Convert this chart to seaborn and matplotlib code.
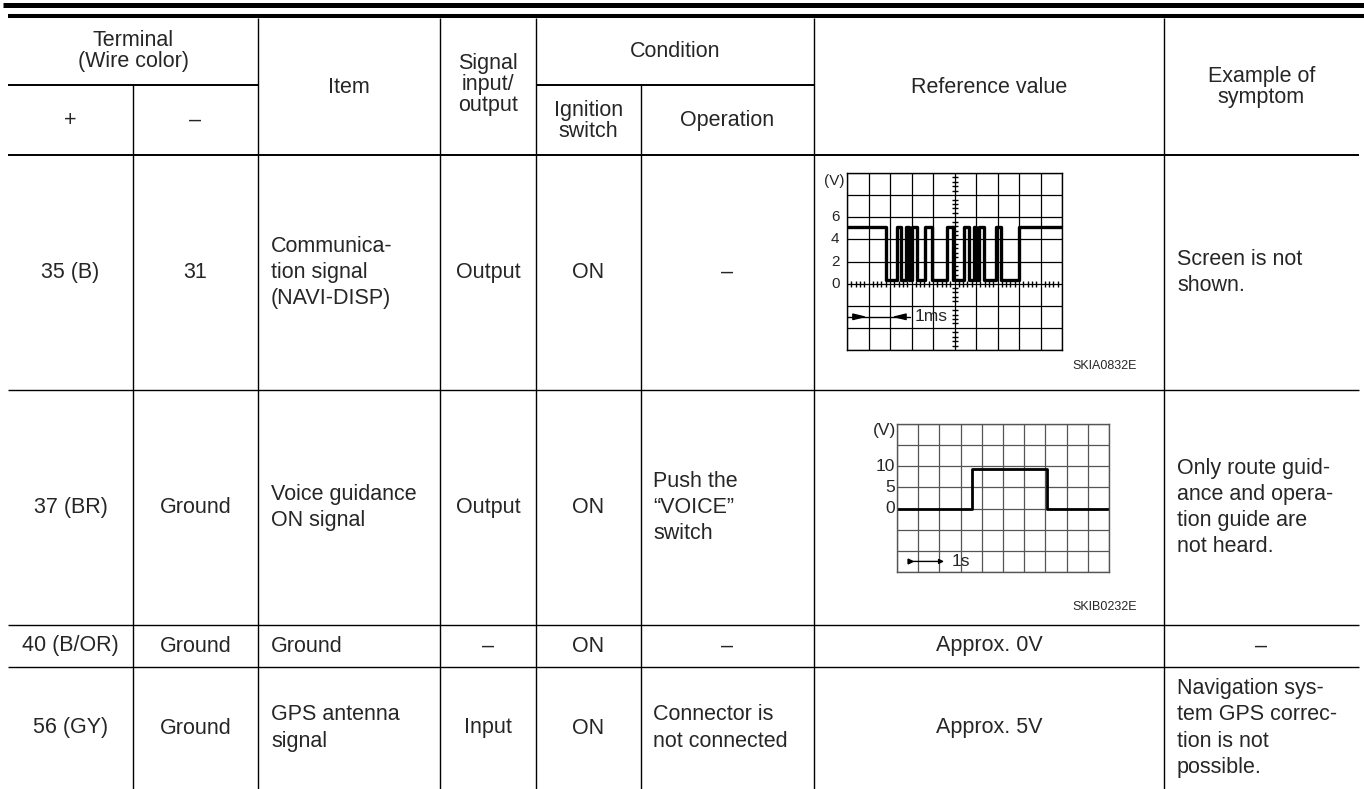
import numpy as np
import matplotlib.pyplot as plt
import seaborn as sns

sns.set_style('white')
plt.rcParams['font.family'] = ['Liberation Sans', 'DejaVu Sans']

# table contents
plus_terminal = ['35 (B)', '37 (BR)', '40 (B/OR)', '56 (GY)']
minus_terminal = ['31', 'Ground', 'Ground', 'Ground']
items = ['Communica-\ntion signal\n(NAVI-DISP)', 'Voice guidance\nON signal', 'Ground', 'GPS antenna\nsignal']
signal_io = ['Output', 'Output', '\u2013', 'Input']
ignition = ['ON', 'ON', 'ON', 'ON']
operation = ['\u2013', 'Push the\n\u201cVOICE\u201d\nswitch', '\u2013', 'Connector is\nnot connected']
reference = [None, None, 'Approx. 0V', 'Approx. 5V']
symptoms = ['Screen is not\nshown.', 'Only route guid-\nance and opera-\ntion guide are\nnot heard.',
            '\u2013', 'Navigation sys-\ntem GPS correc-\ntion is not\npossible.']

# waveform 1 (NAVI-DISP communication), time in divisions, volts
scope1_t = [0, 1.81, 2.33, 2.51, 2.74, 2.88, 3.01, 3.26, 3.63, 3.94, 4.65, 4.93,
            5.46, 5.67, 5.89, 6.02, 6.14, 6.39, 6.95, 7.16, 8.0, 10.0]
scope1_v = [5.1, 0.3, 5.1, 0.3, 5.1, 0.3, 5.1, 0.3, 5.1, 0.3, 5.1, 0.3,
            5.1, 0.3, 5.1, 0.3, 5.1, 0.3, 5.1, 0.3, 5.1, 5.1]
scope1_yticks = [0, 2, 4, 6]

# waveform 2 (voice guidance ON)
scope2_t = [0, 3.56, 7.06, 10.0]
scope2_v = [0, 9.4, 0, 0]
scope2_yticks = [0, 5, 10]

W, H = 1364, 789
FS = 15.5
fig = plt.figure(figsize=(W / 100, H / 100), dpi=100)
ax = fig.add_axes([0, 0, 1, 1])
ax.set_xlim(0, W)
ax.set_ylim(H, 0)
ax.axis('off')

cols = [8, 133, 258, 440, 536, 641, 814, 1164, 1359]
rows = [155, 390, 625, 667, H]

# rules
ax.hlines(4.5, 3, W, color='black', lw=3.6)
ax.hlines(16, 8, W, color='black', lw=2.9)
ax.hlines(85, cols[0], cols[2], color='black', lw=1.4)
ax.hlines(85, cols[4], cols[6], color='black', lw=1.4)
ax.hlines(rows[0], cols[0], cols[-1], color='black', lw=1.4)
ax.hlines(rows[1:4], cols[0], cols[-1], color='black', lw=1.0)
for x in cols[1:-1]:
    top = 85 if x in (cols[1], cols[5]) else 18
    ax.vlines(x, top, H, color='black', lw=1.0)

# header
hdr = dict(fontsize=FS, ha='center', va='center', linespacing=1.0)
ax.text(133, 51, 'Terminal\n(Wire color)', **hdr)
ax.text(70.5, 120, '+', **hdr)
ax.text(195.5, 120, '\u2013', **hdr)
ax.text(349, 87, 'Item', **hdr)
ax.text(488, 84, 'Signal\ninput/\noutput', **hdr)
ax.text(675, 51, 'Condition', **hdr)
ax.text(588.5, 121, 'Ignition\nswitch', **hdr)
ax.text(727.5, 120, 'Operation', **hdr)
ax.text(989, 87, 'Reference value', **hdr)
ax.text(1261.5, 87, 'Example of\nsymptom', **hdr)

# body
cen = dict(fontsize=FS, ha='center', va='center', linespacing=1.32)
lft = dict(fontsize=FS, ha='left', va='center', linespacing=1.32)
for i in range(4):
    yc = (rows[i] + rows[i + 1]) / 2
    ax.text(70.5, yc, plus_terminal[i], **cen)
    ax.text(195.5, yc, minus_terminal[i], **cen)
    ax.text(271, yc, items[i], **lft)
    ax.text(488, yc, signal_io[i], **cen)
    ax.text(588.5, yc, ignition[i], **cen)
    if operation[i] == '\u2013':
        ax.text(727.5, yc, operation[i], **cen)
    else:
        ax.text(653, yc, operation[i], **lft)
    if reference[i]:
        ax.text(989, yc, reference[i], **cen)
    if symptoms[i] == '\u2013':
        ax.text(1261.5, yc, symptoms[i], **cen)
    else:
        ax.text(1177, yc, symptoms[i], **lft)


def inset(x0, y0, x1, y1):
    return fig.add_axes([x0 / W, 1 - y1 / H, (x1 - x0) / W, (y1 - y0) / H])


# scope 1
a1 = inset(847, 173, 1062, 350)
sns.lineplot(x=scope1_t, y=scope1_v, ax=a1, drawstyle='steps-post', estimator=None,
             color='black', lw=2.4)
a1.set_xlim(0, 10)
a1.set_ylim(-6, 10)
a1.set_xticks(range(11))
a1.set_yticks(np.arange(-6, 11, 2))
a1.grid(True, color='black', lw=0.9)
a1.tick_params(length=0, labelbottom=False, labelleft=False)
for s in a1.spines.values():
    s.set_color('black')
    s.set_linewidth(1.0)
minor_x = [k + f for k in range(10) for f in (0.2, 0.4, 0.6, 0.8)]
a1.plot(minor_x, [0] * len(minor_x), ls='none', marker='|', ms=5, mew=1.0, color='black')
minor_y = [k * 0.4 for k in range(-15, 25) if k % 5]
a1.plot([5] * len(minor_y), minor_y, ls='none', marker='_', ms=5, mew=1.0, color='black')
for v in scope1_yticks:
    a1.text(-0.55, v, str(v), fontsize=11, ha='center', va='center', clip_on=False)
a1.text(-0.6, 9.3, '(V)', fontsize=11, ha='center', va='center', clip_on=False)
a1.plot([0, 2.95], [-3, -3], color='black', lw=1.0)
head = dict(arrowstyle='-|>,head_length=0.9,head_width=0.22', color='black', lw=1.0,
            mutation_scale=9, shrinkA=0, shrinkB=0)
a1.annotate('', xy=(0.93, -3), xytext=(0.3, -3), arrowprops=head)
a1.annotate('', xy=(2.09, -3), xytext=(2.7, -3), arrowprops=head)
a1.text(3.15, -3, '1ms', fontsize=12.5, ha='left', va='center')
ax.text(1137, 366, 'SKIA0832E', fontsize=9, ha='right', va='center')

# scope 2
a2 = inset(897, 424, 1109, 572)
sns.lineplot(x=scope2_t, y=scope2_v, ax=a2, drawstyle='steps-post', estimator=None,
             color='black', lw=2.0)
a2.set_xlim(0, 10)
a2.set_ylim(-15, 20)
a2.set_xticks(range(11))
a2.set_yticks(np.arange(-15, 21, 5))
a2.grid(True, color='#555555', lw=0.9)
a2.tick_params(length=0, labelbottom=False, labelleft=False)
for s in a2.spines.values():
    s.set_color('#555555')
    s.set_linewidth(1.0)
for v in scope2_yticks:
    a2.text(-0.1, v, str(v), fontsize=12.5, ha='right', va='center', clip_on=False)
a2.text(-0.05, 18.5, '(V)', fontsize=12.5, ha='right', va='center', clip_on=False)
a2.annotate('', xy=(2.35, -12.5), xytext=(0.6, -12.5),
            arrowprops=dict(arrowstyle='-|>', color='black', lw=1.0, mutation_scale=7))
a2.plot([0.6], [-12.5], marker='>', ms=3.5, color='black')
a2.text(2.6, -12.5, '1s', fontsize=12.5, ha='left', va='center')
ax.text(1137, 607, 'SKIB0232E', fontsize=9, ha='right', va='center')

fig.savefig('out.png', dpi=100)
